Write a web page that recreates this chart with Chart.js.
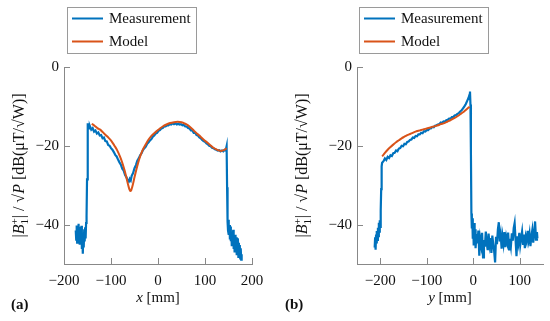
<!DOCTYPE html>
<html>
<head>
<title>B1 profiles</title>
<script src="https://cdn.jsdelivr.net/npm/chart.js@4.4.1/dist/chart.umd.min.js"></script>
<style>
  body { margin: 0; background: #fff; }
  #wrap { position: relative; width: 550px; height: 321px; }
  canvas { position: absolute; top: 0; }
</style>
</head>
<body>
<div id="wrap">
  <canvas id="chartA" width="275" height="321" style="left:0"></canvas>
  <canvas id="chartB" width="275" height="321" style="left:275px"></canvas>
</div>
<script>
// series names (legend)
var seriesNames = ['Measurement', 'Model'];

// tick labels
var yTicks = [-40, -20, 0];
var xTicksA = [-200, -100, 0, 100, 200];
var xTicksB = [-200, -100, 0, 100];

// (a) x profile, measurement
var measAX = [-175,-174,-173,-172,-171,-170,-169,-168,-167,-166,-165,-164,-163,-162,-161,-160,-159,-158,-157,-156,-155,-154,-153,-152,-151,-150,-149,-148,-147,-146,-145,
  -142,-139,-136,-133,-130,-127,-124,-121,-118,-115,-112,-109,-106,-103,-100,-97,-94,-91,-88,-85,-82,-79,-76,-73,-70,-67,-64,-62,-60,-58,-56,-53,-50,-47,-44,-41,-38,-35,-32,-29,-26,-23,-20,-17,-14,-11,-8,-5,-2,
  1,4,7,10,13,16,19,22,25,28,31,34,37,40,43,46,49,52,55,58,61,64,67,70,73,76,79,82,85,88,91,94,97,100,103,106,109,112,115,118,121,124,127,130,133,136,139,142,144,146,
  147,148,149,150,151,152,153,154,155,156,157,158,159,160,161,162,163,164,165,166,167,168,169,170,171,172,173,174,175,176,177,178];
var measAY = [-41.5,-43.8,-40.2,-44.6,-41.0,-42.8,-39.8,-43.2,-40.6,-45.1,-41.8,-44.0,-40.3,-46.2,-42.1,-47.4,-43.0,-45.8,-41.2,-44.3,-40.7,-43.5,-39.6,-37.8,-28.5,-18.2,-14.3,-15.2,-14.6,-15.6,-15.0,
  -15.9,-15.5,-16.4,-16.1,-16.9,-16.6,-17.4,-17.3,-18.1,-17.9,-18.8,-18.9,-19.8,-20.0,-20.6,-21.0,-21.6,-22.3,-22.7,-23.5,-24.2,-24.8,-25.8,-26.3,-27.4,-28.0,-28.9,-29.1,-28.4,-28.8,-27.6,-26.9,-25.7,-24.9,-23.8,-23.2,-22.4,-21.9,-21.1,-20.6,-20.2,-19.5,-19.1,-18.6,-18.3,-17.7,-17.4,-16.9,-16.7,
  -16.2,-16.0,-15.6,-15.5,-15.1,-15.1,-14.8,-14.8,-14.5,-14.6,-14.3,-14.5,-14.3,-14.6,-14.4,-14.6,-14.5,-14.8,-14.7,-15.1,-15.1,-15.5,-15.6,-16.1,-16.1,-16.7,-16.7,-17.3,-17.4,-17.9,-18.1,-18.5,-18.8,-19.0,-19.4,-19.6,-20.0,-20.1,-20.5,-20.6,-20.9,-21.0,-21.2,-21.1,-21.4,-21.2,-21.4,-21.0,-21.2,-20.1,
  -30.5,-39.2,-41.5,-38.8,-42.6,-40.1,-43.8,-40.5,-44.2,-41.8,-45.5,-42.0,-43.9,-41.3,-46.2,-43.0,-47.1,-42.6,-45.4,-43.2,-47.8,-44.1,-46.3,-43.5,-48.2,-44.6,-47.0,-45.2,-48.6,-46.0,-48.9,-47.5];

// (a) x profile, model
var modelAX = [-141,-135,-129,-123,-117,-111,-105,-99,-93,-87,-81,-76,-71,-67,-64,-61,-59,-57,-55,-53,-50,-46,-42,-38,-32,-26,-20,-14,-8,-2,
  4,10,18,26,34,42,50,58,64,70,76,82,88,94,100,106,112,118,124,130,135,140,144,146];
var modelAY = [-14.4,-14.9,-15.5,-15.9,-16.6,-17.3,-18.0,-18.8,-19.9,-21.1,-22.7,-24.3,-26.3,-28.2,-29.7,-31.0,-31.5,-31.3,-30.5,-29.6,-28.0,-26.0,-24.2,-22.7,-20.9,-19.6,-18.4,-17.5,-16.8,-16.2,
  -15.6,-15.1,-14.6,-14.2,-14.0,-13.9,-14.0,-14.4,-14.8,-15.4,-16.1,-16.8,-17.4,-18.1,-18.7,-19.3,-19.9,-20.5,-20.9,-21.2,-21.3,-21.1,-20.8,-20.6];

// (b) y profile, measurement
var measBX = [-212,-211,-210,-209,-208,-207,-206,-205,-204,-203,-202,-201,-200,-199,-198,-197,-196,
  -193,-190,-187,-184,-181,-178,-175,-172,-169,-166,-163,-160,-157,-154,-151,-148,-145,-142,-139,-136,-133,-130,-127,-124,-121,-118,-115,-112,-109,-106,-103,-100,-97,-94,-91,-88,-85,-82,-79,-76,-73,-70,-67,-64,-61,-58,-55,-52,-49,-46,-43,-40,-37,-34,-31,-28,-25,-22,-19,-16,-13,-10,-8,-7,-6,-5,-4,
  -3,-2,-1,0,1,2,3,4,5,7,9,11,13,15,17,19,21,23,25,27,29,31,33,35,37,39,41,43,45,47,49,51,53,55,57,59,61,63,65,67,69,71,73,75,77,79,81,83,85,87,89,91,93,95,97,99,101,103,105,107,109,111,113,115,117,119,121,123,125,127,129,131,133,135,137,138];
var measBY = [-45.8,-43.2,-46.4,-42.5,-44.8,-41.6,-43.9,-40.8,-42.9,-39.5,-41.8,-38.9,-40.6,-36.5,-31.0,-25.2,-24.3,
  -23.9,-23.2,-23.6,-22.8,-23.1,-22.4,-22.6,-21.9,-21.8,-21.2,-21.4,-20.7,-20.6,-20.0,-20.1,-19.5,-19.6,-19.0,-18.9,-18.5,-18.4,-17.9,-18.0,-17.5,-17.6,-17.1,-17.1,-16.7,-16.8,-16.3,-16.4,-16.0,-16.0,-15.6,-15.6,-15.2,-15.3,-14.9,-14.8,-14.6,-14.5,-14.1,-14.2,-13.8,-13.9,-13.5,-13.4,-13.1,-13.1,-12.7,-12.7,-12.3,-12.2,-11.9,-11.7,-11.3,-11.0,-10.5,-10.0,-9.4,-8.6,-7.8,-7.0,-6.2,-9.5,-22.0,-37.2,
  -41.0,-38.4,-43.6,-40.2,-45.3,-39.6,-43.1,-41.2,-46.0,-42.4,-44.8,-41.5,-47.9,-43.6,-45.2,-42.1,-48.3,-43.9,-45.6,-41.8,-44.7,-46.5,-42.3,-45.1,-43.4,-47.2,-42.8,-44.9,-46.8,-49.6,-43.1,-45.0,-41.2,-39.4,-44.3,-42.6,-46.1,-43.0,-44.8,-41.9,-45.7,-43.2,-44.5,-42.0,-46.3,-43.6,-45.4,-42.2,-44.1,-40.9,-39.6,-43.8,-48.0,-43.0,-44.6,-42.1,-45.2,-43.4,-41.8,-44.9,-42.5,-46.0,-43.1,-44.2,-41.6,-43.9,-42.3,-45.5,-43.0,-41.4,-44.6,-42.2,-39.2,-43.8,-41.9,-43.5];

// (b) y profile, model
var modelBX = [-196,-190,-184,-178,-172,-166,-160,-154,-148,-142,-136,-130,-124,-118,-112,-106,-100,-94,-88,-82,-76,-70,-64,-58,-52,-46,-40,-34,-28,-22,-16,-10,-8];
var modelBY = [-22.7,-21.8,-21.0,-20.3,-19.7,-19.1,-18.6,-18.1,-17.7,-17.3,-17.0,-16.7,-16.4,-16.2,-16.0,-15.8,-15.6,-15.4,-15.2,-15.0,-14.8,-14.5,-14.3,-14.0,-13.7,-13.3,-12.9,-12.5,-12.0,-11.5,-10.9,-10.3,-10.1];

var blue = '#0072BD';
var orange = '#D95319';
var axisGray = '#888888';
var serif = "'Liberation Serif', 'DejaVu Serif', serif";

Chart.defaults.font.family = serif;
Chart.defaults.font.size = 15;
Chart.defaults.color = '#111';

var pts = (xs, ys) => xs.map((x, i) => ({x: x, y: ys[i]}));
var minus = (v) => String(v).replace('-', '\u2212');

// draws a run of text pieces (italic / sub / sup) centred on 0,0
var drawRich = (ctx, segs, size) => {
    var w = 0;
    segs.forEach((s) => {
        var fs = s.small ? size * 0.7 : size;
        ctx.font = (s.it ? 'italic ' : '') + fs + 'px ' + serif;
        s.w = ctx.measureText(s.t).width;
        if (!s.stack) w += s.w;
    });
    var x = -w / 2;
    var base = size * 0.33;
    segs.forEach((s) => {
        var fs = s.small ? size * 0.7 : size;
        ctx.font = (s.it ? 'italic ' : '') + fs + 'px ' + serif;
        ctx.fillText(s.t, x, base + (s.dy || 0));
        if (!s.stack) x += s.w;
    });
};

var decorPlugin = {
    id: 'decor',
    afterDraw(chart, args, opts) {
        var ctx = chart.ctx;
        var a = chart.chartArea;
        var xs = chart.scales.x, ys = chart.scales.y;

        // inward tick marks
        ctx.save();
        ctx.strokeStyle = axisGray;
        ctx.lineWidth = 1;
        ctx.beginPath();
        xs.ticks.forEach((t) => {
            var px = Math.round(xs.getPixelForValue(t.value)) + 0.5;
            ctx.moveTo(px, a.bottom);
            ctx.lineTo(px, a.bottom - 6);
        });
        ys.ticks.forEach((t) => {
            var py = Math.round(ys.getPixelForValue(t.value)) + 0.5;
            ctx.moveTo(a.left, py);
            ctx.lineTo(a.left + 6, py);
        });
        ctx.stroke();

        // boxed legend
        var bx = a.left + opts.legendDx, by = 7, bw = 129, bh = 46;
        ctx.fillStyle = '#fff';
        ctx.fillRect(bx, by, bw, bh);
        ctx.strokeStyle = '#9a9a9a';
        ctx.strokeRect(bx + 0.5, by + 0.5, bw, bh);
        ctx.font = '15px ' + serif;
        ctx.textBaseline = 'middle';
        ctx.textAlign = 'left';
        chart.data.datasets.forEach((ds, i) => {
            var ly = by + 11.5 + i * 23;
            ctx.strokeStyle = ds.borderColor;
            ctx.lineWidth = 2;
            ctx.beginPath();
            ctx.moveTo(bx + 5, ly);
            ctx.lineTo(bx + 36, ly);
            ctx.stroke();
            ctx.fillStyle = '#111';
            ctx.fillText(ds.label, bx + 42, ly + 1);
        });

        // axis titles and panel tag
        ctx.textBaseline = 'alphabetic';
        ctx.textAlign = 'left';
        ctx.fillStyle = '#111';
        ctx.save();
        ctx.translate((a.left + a.right) / 2, 297);
        drawRich(ctx, opts.xTitle, 15);
        ctx.restore();

        ctx.save();
        ctx.translate(opts.yTitleX, (a.top + a.bottom) / 2);
        ctx.rotate(-Math.PI / 2);
        drawRich(ctx, opts.yTitle, 16);
        ctx.restore();

        ctx.font = 'bold 15px ' + serif;
        ctx.fillText(opts.tag, opts.tagX, 309);
        ctx.restore();
    }
};

var yTitleSegs = () => [
    {t: '|'}, {t: 'B', it: true}, {t: '1', small: true, dy: 4, stack: true}, {t: '+', small: true, dy: -6},
    {t: '| / \u221A'}, {t: 'P', it: true}, {t: ' [dB(\u03BCT/\u221AW)]'}
];

var makeChart = (id, cfg) => {
    return new Chart(document.getElementById(id), {
        type: 'line',
        data: {
            datasets: [
                {
                    label: seriesNames[0],
                    data: pts(cfg.measX, cfg.measY),
                    borderColor: blue,
                    borderWidth: 2.2,
                    pointRadius: 0,
                    tension: 0,
                    order: 1
                },
                {
                    label: seriesNames[1],
                    data: pts(cfg.modelX, cfg.modelY),
                    borderColor: orange,
                    borderWidth: 2,
                    pointRadius: 0,
                    cubicInterpolationMode: 'monotone',
                    order: 0
                }
            ]
        },
        options: {
            responsive: false,
            animation: false,
            layout: { padding: { top: 67, right: cfg.padRight, left: 0, bottom: 0 } },
            plugins: {
                legend: { display: false },
                tooltip: { enabled: false },
                decor: cfg.decor
            },
            scales: {
                x: {
                    type: 'linear',
                    min: cfg.xMin,
                    max: cfg.xMax,
                    afterBuildTicks: (s) => { s.ticks = cfg.xTicks.map((v) => ({value: v})); },
                    afterFit: (s) => { s.height = 57; },
                    grid: { display: false, drawTicks: false },
                    border: { display: true, color: axisGray, width: 1 },
                    ticks: { padding: 8, maxRotation: 0, callback: minus }
                },
                y: {
                    min: -50,
                    max: 0,
                    afterBuildTicks: (s) => { s.ticks = yTicks.map((v) => ({value: v})); },
                    afterFit: (s) => { s.width = cfg.yWidth; },
                    grid: { display: false, drawTicks: false },
                    border: { display: true, color: axisGray, width: 1 },
                    ticks: { padding: 5, callback: minus }
                }
            }
        },
        plugins: [decorPlugin]
    });
};

makeChart('chartA', {
    measX: measAX, measY: measAY, modelX: modelAX, modelY: modelAY,
    xMin: -200, xMax: 200, xTicks: xTicksA, padRight: 23, yWidth: 64,
    decor: {
        legendDx: 3, yTitleX: 19, tagX: 11, tag: '(a)',
        xTitle: [{t: 'x', it: true}, {t: ' [mm]'}],
        yTitle: yTitleSegs()
    }
});

makeChart('chartB', {
    measX: measBX, measY: measBY, modelX: modelBX, modelY: modelBY,
    xMin: -250, xMax: 150, xTicks: xTicksB, padRight: 7, yWidth: 82,
    decor: {
        legendDx: 2, yTitleX: 27, tagX: 10, tag: '(b)',
        xTitle: [{t: 'y', it: true}, {t: ' [mm]'}],
        yTitle: yTitleSegs()
    }
});
</script>
</body>
</html>
